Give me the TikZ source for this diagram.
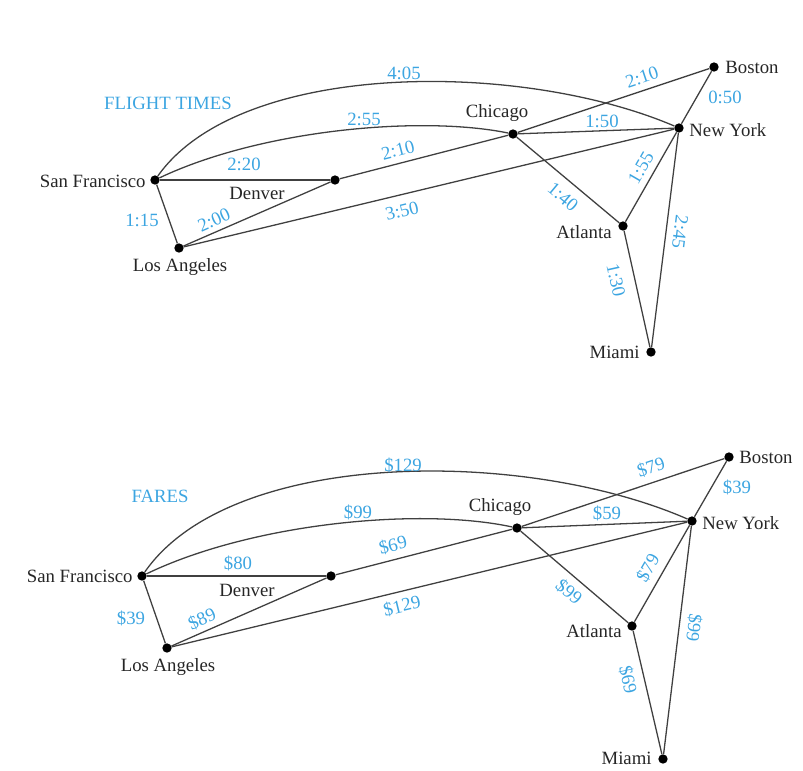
\documentclass[tikz,border=0pt]{standalone}
\usepackage{fontspec}
\setmainfont{Liberation Serif}
\definecolor{lblue}{RGB}{60,165,225}
\begin{document}
\begin{tikzpicture}[x=0.03cm,y=-0.03cm,
  dot/.style={circle,fill=black,inner sep=0pt,minimum size=2.8mm},
  edge/.style={draw=black!75,line width=1.1pt},
  city/.style={font=\fontsize{16}{18}\selectfont,text=black!85,inner sep=1pt},
  lbl/.style={font=\fontsize{16}{18}\selectfont,text=lblue,inner sep=0pt}]
\useasboundingbox (0,0) rectangle (803,770);

% ---------- FLIGHT TIMES ----------
\node[dot] (sf) at (155,180) {};
\node[dot] (la) at (179,248) {};
\node[dot] (de) at (335,180) {};
\node[dot] (ch) at (513,134) {};
\node[dot] (ny) at (679,128) {};
\node[dot] (bo) at (714,67) {};
\node[dot] (at) at (623,226) {};
\node[dot] (mi) at (651,352) {};

\draw[edge] (sf) -- (la);
\draw[edge] (sf) -- (de);
\draw[edge] (la) -- (de);
\draw[edge] (de) -- (ch);
\draw[edge] (la) -- (ny);
\draw[edge] (sf) .. controls (260,130) and (420,115) .. (ch);
\draw[edge] (sf) .. controls (240,60) and (520,60) .. (ny);
\draw[edge] (ch) -- (ny);
\draw[edge] (ch) -- (bo);
\draw[edge] (bo) -- (ny);
\draw[edge] (ch) -- (at);
\draw[edge] (ny) -- (at);
\draw[edge] (ny) -- (mi);
\draw[edge] (at) -- (mi);

\node[city,anchor=east] (tsf) at (147,181) {San Francisco};
\node[city] (tla) at (180,267) {Los Angeles};
\node[city] (tde) at (257,193) {Denver};
\node[city] (tch) at (497,113) {Chicago};
\node[city,anchor=west] (tbo) at (724,67) {Boston};
\node[city,anchor=west] (tny) at (688,130) {New York};
\node[city,anchor=east] (tat) at (613,232) {Atlanta};
\node[city,anchor=east] (tmi) at (641,352) {Miami};

\node[lbl] (ttitle) at (168,103) {FLIGHT TIMES};
\node[lbl] (w1) at (404,73) {4:05};
\node[lbl] (w2) at (364,119) {2:55};
\node[lbl] (w3) at (244,164) {2:20};
\node[lbl,rotate=14.5] (w4) at (398,150) {2:10};
\node[lbl,rotate=13.5] (w5) at (402,211) {3:50};
\node[lbl,rotate=24] (w6) at (214,220) {2:00};
\node[lbl] (w7) at (142,220) {1:15};
\node[lbl,rotate=18.4] (w8) at (642,77) {2:10};
\node[lbl] (w9) at (725,97) {0:50};
\node[lbl] (w10) at (602,121) {1:50};
\node[lbl,rotate=-40] (w11) at (563,197) {1:40};
\node[lbl,rotate=60] (w12) at (641,168) {1:55};
\node[lbl,rotate=-97] (w13) at (680,232) {2:45};
\node[lbl,rotate=-77.5] (w14) at (616,280) {1:30};

% ---------- FARES ----------
\node[dot] (bsf) at (142,576) {};
\node[dot] (bla) at (167,648) {};
\node[dot] (bde) at (331,576) {};
\node[dot] (bch) at (517,528) {};
\node[dot] (bny) at (692,521) {};
\node[dot] (bbo) at (729,457) {};
\node[dot] (bat) at (632,626) {};
\node[dot] (bmi) at (663,759) {};

\draw[edge] (bsf) -- (bla);
\draw[edge] (bsf) -- (bde);
\draw[edge] (bla) -- (bde);
\draw[edge] (bde) -- (bch);
\draw[edge] (bla) -- (bny);
\draw[edge] (bsf) .. controls (252,523) and (420,507) .. (bch);
\draw[edge] (bsf) .. controls (231,448) and (525,448) .. (bny);
\draw[edge] (bch) -- (bny);
\draw[edge] (bch) -- (bbo);
\draw[edge] (bbo) -- (bny);
\draw[edge] (bch) -- (bat);
\draw[edge] (bny) -- (bat);
\draw[edge] (bny) -- (bmi);
\draw[edge] (bat) -- (bmi);

\node[city,anchor=east] (csf) at (134,576) {San Francisco};
\node[city] (cla) at (168,667) {Los Angeles};
\node[city] (cde) at (247,590) {Denver};
\node[city] (cch) at (500,507) {Chicago};
\node[city,anchor=west] (cbo) at (738,457) {Boston};
\node[city,anchor=west] (cny) at (701,523) {New York};
\node[city,anchor=east] (cat) at (623,631) {Atlanta};
\node[city,anchor=east] (cmi) at (653,758) {Miami};

\node[lbl] (btitle) at (160,496) {FARES};
\node[lbl] (f1) at (403,465) {\$129};
\node[lbl] (f2) at (358,512) {\$99};
\node[lbl] (f3) at (238,563) {\$80};
\node[lbl,rotate=14.5] (f4) at (393,545) {\$69};
\node[lbl,rotate=13.5] (f5) at (402,606) {\$129};
\node[lbl,rotate=24] (f6) at (202,619) {\$89};
\node[lbl] (f7) at (131,618) {\$39};
\node[lbl,rotate=18.4] (f8) at (651,467) {\$79};
\node[lbl] (f9) at (737,487) {\$39};
\node[lbl] (f10) at (607,513) {\$59};
\node[lbl,rotate=-40] (f11) at (569,592) {\$99};
\node[lbl,rotate=60] (f12) at (648,568) {\$79};
\node[lbl,rotate=-97] (f13) at (694,628) {\$99};
\node[lbl,rotate=-77.5] (f14) at (628,680) {\$69};
\end{tikzpicture}
\end{document}
